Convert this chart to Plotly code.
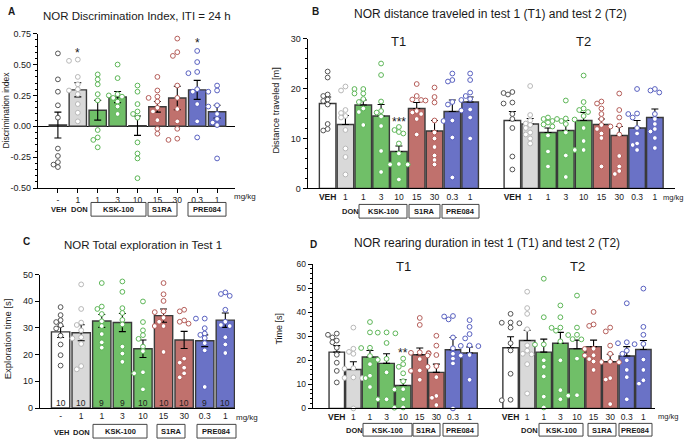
import plotly.graph_objects as go

W, H = 685, 445
FONT = "Liberation Sans, Arial, sans-serif"

# ---------------- data ----------------
dose_labels = ["-", "1", "1", "3", "10", "15", "30", "0.3", "1"]
dose_labels_veh = ["<b>VEH</b>", "1", "1", "3", "10", "15", "30", "0.3", "1"]
bar_group = ["VEH", "DON", "KSK", "KSK", "KSK", "S1RA", "S1RA", "PRE", "PRE"]
n_counts_c = [10, 10, 9, 9, 10, 10, 10, 9, 10]

# A: discrimination index
di_mean = [0.01, 0.295, 0.13, 0.237, 0.005, 0.158, 0.229, 0.295, 0.118]
di_sem = [0.105, 0.057, 0.08, 0.045, 0.078, 0.043, 0.095, 0.077, 0.052]
di_points = [
    [0.59, 0.38, 0.28, 0.17, 0.07, -0.18, -0.24, -0.29, -0.31, -0.33],
    [0.54, 0.53, 0.40, 0.34, 0.30, 0.29, 0.26, 0.18, 0.11, 0.04],
    [0.42, 0.38, 0.34, 0.26, 0.21, -0.03, -0.09, -0.11, -0.17],
    [0.50, 0.39, 0.26, 0.25, 0.24, 0.23, 0.20, 0.16, 0.10],
    [0.33, 0.28, 0.18, 0.12, 0.10, 0.07, -0.13, -0.22, -0.26, -0.42],
    [0.40, 0.29, 0.24, 0.23, 0.20, 0.15, 0.12, 0.05, -0.02, -0.06],
    [0.71, 0.60, 0.57, 0.33, 0.23, 0.14, 0.04, -0.02, -0.10, -0.11],
    [0.61, 0.52, 0.44, 0.43, 0.30, 0.28, 0.18, 0.04, -0.09],
    [0.33, 0.29, 0.28, 0.17, 0.16, 0.10, 0.06, 0.03, 0.01, -0.26],
]

# B: distance traveled
dist_t1_mean = [17.0, 12.8, 16.7, 14.5, 7.4, 16.0, 11.5, 15.4, 17.3]
dist_t1_sem = [1.3, 1.8, 1.0, 2.3, 1.1, 1.2, 2.1, 2.3, 1.0]
dist_t1_points = [
    [23.4, 22.2, 18.8, 18.5, 17.8, 17.5, 16.8, 12.9, 11.9, 11.6],
    [20.4, 19.6, 15.7, 15.1, 14.5, 14.2, 11.7, 8.0, 6.3, 2.8],
    [19.9, 19.9, 19.0, 19.0, 17.9, 17.3, 16.0, 15.3, 12.7],
    [25.0, 22.7, 17.4, 15.5, 15.2, 14.4, 12.5, 7.5, 3.3],
    [12.3, 11.7, 11.3, 11.0, 9.0, 7.0, 4.9, 4.8, 4.8, 1.8],
    [20.9, 18.5, 17.8, 17.7, 17.6, 15.5, 15.2, 14.9, 13.9, 10.8],
    [20.2, 18.3, 17.2, 13.6, 11.2, 10.0, 8.3, 6.6, 5.7, 4.8],
    [23.0, 21.7, 21.4, 17.3, 16.8, 13.6, 13.5, 10.2, 2.2],
    [23.0, 21.7, 19.2, 18.5, 17.9, 17.7, 15.8, 15.6, 14.2, 10.0],
]
dist_t2_mean = [13.6, 12.9, 11.2, 11.6, 13.6, 12.8, 10.6, 12.1, 14.2]
dist_t2_sem = [1.8, 1.1, 0.9, 2.0, 1.6, 1.1, 1.8, 1.5, 1.7]
dist_t2_points = [
    [19.3, 19.1, 18.8, 17.2, 17.0, 14.9, 13.9, 12.1, 6.4, 3.8],
    [20.5, 14.7, 13.6, 13.0, 12.7, 12.1, 11.2, 10.8, 10.0, 9.0],
    [14.2, 13.9, 13.5, 13.2, 12.8, 12.4, 10.6, 7.4, 4.4],
    [17.6, 14.0, 13.9, 13.8, 13.5, 12.9, 11.2, 6.6, 2.3],
    [22.6, 17.3, 16.0, 15.7, 15.3, 14.5, 12.1, 9.5, 7.7, 7.7],
    [17.4, 17.0, 16.0, 14.9, 13.9, 12.7, 11.9, 11.0, 10.1, 4.4],
    [19.0, 15.7, 14.2, 12.6, 12.4, 10.8, 6.5, 4.4, 3.5, 2.9],
    [19.9, 15.0, 14.9, 14.2, 12.1, 11.0, 9.0, 8.7, 7.7],
    [19.9, 19.6, 19.2, 14.9, 13.9, 12.9, 11.9, 11.4, 10.1, 8.1],
]

# C: total exploration
expl_mean = [28.5, 28.2, 32.6, 32.0, 22.2, 34.6, 25.5, 25.2, 32.9]
expl_sem = [2.1, 3.0, 2.4, 3.4, 3.3, 2.5, 3.2, 2.2, 2.7]
expl_points = [
    [37.8, 34.8, 32.9, 32.2, 31.0, 29.8, 27.1, 23.8, 19.8, 15.9],
    [46.3, 37.1, 32.0, 31.1, 29.1, 26.5, 26.1, 24.0, 15.7, 14.5],
    [46.8, 38.0, 37.1, 35.2, 32.5, 30.7, 27.7, 24.6, 22.6],
    [47.4, 43.5, 37.4, 35.6, 33.0, 31.3, 23.0, 20.4, 17.3],
    [39.9, 32.2, 29.1, 27.3, 25.9, 23.0, 21.3, 13.4, 13.0, 7.0],
    [46.8, 42.6, 40.1, 36.2, 35.9, 33.8, 32.3, 30.7, 30.7, 21.0],
    [36.8, 36.2, 32.8, 32.3, 31.6, 18.5, 17.0, 15.1, 13.0, 11.5],
    [33.5, 33.5, 29.9, 27.9, 27.4, 26.2, 24.3, 21.6, 7.9],
    [43.3, 42.7, 42.0, 36.8, 32.3, 31.1, 30.7, 26.5, 23.8, 20.6],
]

# D: rearing duration
rear_t1_mean = [23.4, 16.2, 21.4, 18.7, 9.5, 22.3, 15.0, 24.4, 23.0]
rear_t1_sem = [2.7, 3.2, 2.7, 4.0, 2.4, 2.8, 3.4, 5.1, 2.5]
rear_t1_points = [
    [31.1, 30.6, 29.5, 28.2, 27.5, 25.2, 22.3, 19.0, 15.6, 10.8],
    [33.6, 24.8, 23.5, 22.7, 16.7, 16.5, 12.9, 12.7, 12.6, 0.0],
    [35.9, 31.6, 25.2, 25.1, 21.8, 18.4, 13.6, 12.6, 8.9],
    [31.6, 31.5, 31.2, 27.2, 20.6, 20.2, 15.0, 3.8, 3.8],
    [20.7, 18.4, 17.3, 14.6, 11.3, 8.0, 7.9, 3.8, 0.4, 0.3],
    [37.6, 34.7, 23.3, 23.1, 23.0, 22.8, 20.5, 15.8, 15.6, 11.9],
    [30.2, 26.1, 22.2, 22.0, 17.6, 17.3, 13.0, 5.2, 4.4, 1.4],
    [38.4, 38.2, 37.0, 29.5, 25.0, 22.7, 20.7, 18.7, 0.0],
    [36.7, 33.9, 30.9, 29.1, 26.2, 26.0, 25.9, 22.2, 22.0, 11.9],
]
rear_t2_mean = [25.2, 28.2, 23.4, 27.1, 24.8, 25.7, 19.4, 21.8, 24.5]
rear_t2_sem = [4.6, 4.3, 5.4, 4.5, 3.6, 2.7, 3.1, 3.9, 3.7]
rear_t2_points = [
    [39.3, 35.7, 35.6, 35.4, 33.6, 27.1, 24.1, 14.4, 3.6, 3.4],
    [48.5, 41.7, 39.3, 32.9, 26.2, 24.0, 22.7, 22.5, 18.4, 6.2],
    [53.9, 37.9, 26.6, 26.5, 20.0, 17.3, 13.3, 4.9, 0.4],
    [42.8, 37.9, 33.6, 33.5, 32.3, 27.9, 20.0, 7.6, 3.8],
    [46.9, 33.6, 30.6, 30.5, 28.8, 28.7, 20.7, 5.5, 5.3],
    [40.1, 34.9, 34.3, 24.8, 24.7, 22.1, 22.0, 20.5, 19.5, 16.0],
    [33.6, 32.0, 26.1, 22.7, 19.4, 19.3, 19.2, 12.6, 12.0, 1.8],
    [43.7, 27.5, 27.1, 24.0, 22.7, 20.0, 16.0, 13.0, 3.8],
    [49.8, 33.9, 30.6, 26.8, 26.7, 20.3, 16.0, 11.7, 10.3],
]

# ---------------- style ----------------
bar_fill = {"VEH": "#ffffff", "DON": "#d9d9d9", "KSK": "#70bf68",
            "S1RA": "#c0716d", "PRE": "#6a72c6"}
pt_edge = {"VEH": "#555555", "DON": "#b8b8b8", "KSK": "#5db657",
           "S1RA": "#b55e5a", "PRE": "#5860c0"}
BAR_EDGE = "#3a3a3a"


def fx(px):
    return px / W


def fy(py):
    return 1 - py / H


def swarm(vals, ppx, ppy, d=4.6, step=4.4):
    placed = []
    offs = [0.0] * len(vals)
    for i in sorted(range(len(vals)), key=lambda k: -vals[k]):
        yp = vals[i] * ppy
        xp = 0.0
        for k in (0, -1, 1, -2, 2):
            xp = k * step
            if all((xp - a) ** 2 + (yp - b) ** 2 >= d * d for a, b in placed):
                break
        placed.append((xp, yp))
        offs[i] = xp / ppx
    return offs


fig = go.Figure()


def add_panel(xa, ya, positions, means, sems, points, ppx, ppy, width,
              upward_only):
    groups = bar_group * (len(positions) // len(bar_group))
    err = dict(type="data", array=sems, color="black", thickness=1.1, width=3.5)
    if upward_only:
        err.update(symmetric=False, arrayminus=[0] * len(sems))
    fig.add_trace(go.Bar(
        x=positions, y=means, xaxis=xa, yaxis=ya, width=width,
        marker=dict(color=[bar_fill[g] for g in groups],
                    line=dict(color=BAR_EDGE, width=1.4)),
        error_y=err, showlegend=False, hoverinfo="skip"))
    xs, ys, cols = [], [], []
    for pos, pts, g in zip(positions, points, groups):
        offs = swarm(pts, ppx, ppy)
        for v, o in zip(pts, offs):
            xs.append(pos + o)
            ys.append(v)
            cols.append(pt_edge[g])
    fig.add_trace(go.Scatter(
        x=xs, y=ys, xaxis=xa, yaxis=ya, mode="markers", cliponaxis=False,
        marker=dict(symbol="circle", size=4.8, color="white",
                    line=dict(color=cols, width=1)),
        showlegend=False, hoverinfo="skip"))


pos9 = list(range(9))
# pixel geometry of each panel
A_X, A_Y = (38, 235), (187.3, 29.3)
A_RX, A_RY = (-1.0, 8.9), (-0.5, 0.75)
B_X, B_Y = (307.7, 675), (187.7, 34.3)
B_RX, B_RY = (-1.12, 19.5), (0, 30)
C_X, C_Y = (40, 235), (412.3, 275.7)
C_RX, C_RY = (-1.0, 8.47), (0, 50)
D_X, D_Y = (312.7, 655), (412.7, 265)
D_RX, D_RY = (-1.45, 19.17), (0, 60)
B_T2 = 10.37
D_T2 = 10.47


def scale(px, rx):
    return (px[1] - px[0]) / (rx[1] - rx[0])


def yscale(py, ry):
    return (py[0] - py[1]) / (ry[1] - ry[0])


add_panel("x", "y", pos9, di_mean, di_sem, di_points,
          scale(A_X, A_RX), yscale(A_Y, A_RY), 0.87, False)
b_pos = pos9 + [B_T2 + p for p in pos9]
add_panel("x2", "y2", b_pos, dist_t1_mean + dist_t2_mean,
          dist_t1_sem + dist_t2_sem, dist_t1_points + dist_t2_points,
          scale(B_X, B_RX), yscale(B_Y, B_RY), 0.93, True)
add_panel("x3", "y3", pos9, expl_mean, expl_sem, expl_points,
          scale(C_X, C_RX), yscale(C_Y, C_RY), 0.89, False)
d_pos = pos9 + [D_T2 + p for p in pos9]
add_panel("x4", "y4", d_pos, rear_t1_mean + rear_t2_mean,
          rear_t1_sem + rear_t2_sem, rear_t1_points + rear_t2_points,
          scale(D_X, D_RX), yscale(D_Y, D_RY), 0.93, True)


def xaxis(px, rng, tickvals, ticktext, anchor, ticks=""):
    return dict(domain=[fx(px[0]), fx(px[1])], range=list(rng), anchor=anchor,
                tickmode="array", tickvals=tickvals, ticktext=ticktext,
                ticks=ticks, ticklen=4, tickcolor="black", tickwidth=1,
                showline=True, linecolor="black", linewidth=1.2,
                showgrid=False, zeroline=False, fixedrange=True,
                tickfont=dict(size=8.5, color="#1a1a1a"))


def yaxis(py, rng, anchor, dtick, minor=None, **kw):
    d = dict(domain=[fy(py[0]), fy(py[1])], range=list(rng), anchor=anchor,
             tickmode="linear", tick0=rng[0], dtick=dtick,
             ticks="outside", ticklen=4, tickcolor="black", tickwidth=1,
             showline=True, linecolor="black", linewidth=1.2,
             showgrid=False, zeroline=False, fixedrange=True,
             tickfont=dict(size=9, color="#1a1a1a"))
    if minor:
        d["minor"] = dict(tickmode="linear", tick0=rng[0], dtick=minor,
                          ticks="outside", ticklen=2, tickcolor="black",
                          showgrid=False)
    d.update(kw)
    return d


a_ytick = [-0.5, -0.25, 0, 0.25, 0.5, 0.75]
fig.update_layout(
    width=W, height=H, margin=dict(l=0, r=0, t=0, b=0),
    paper_bgcolor="white", plot_bgcolor="rgba(0,0,0,0)",
    font=dict(family=FONT, size=9, color="#1a1a1a"), showlegend=False,
    xaxis=xaxis(A_X, A_RX, pos9, dose_labels, "y", ticks="outside"),
    yaxis=yaxis(A_Y, A_RY, "x", 0.25, 0.05, tickmode="array",
                tickvals=a_ytick, ticktext=["%.2f" % v for v in a_ytick],
                zeroline=True, zerolinecolor="black", zerolinewidth=1.2),
    xaxis2=xaxis(B_X, B_RX, b_pos, dose_labels_veh * 2, "y2"),
    yaxis2=yaxis(B_Y, B_RY, "x2", 10, 2),
    xaxis3=xaxis(C_X, C_RX, pos9, dose_labels, "y3"),
    yaxis3=yaxis(C_Y, C_RY, "x3", 10),
    xaxis4=xaxis(D_X, D_RX, d_pos, dose_labels_veh * 2, "y4"),
    yaxis4=yaxis(D_Y, D_RY, "x4", 10, 2, tickfont=dict(size=8.5, color="#1a1a1a")),
)

ann = []
shapes = []


def text(t, px, py, size, bold=False, angle=0, color="#1a1a1a", xanchor="center"):
    ann.append(dict(text=("<b>%s</b>" % t) if bold else t, x=fx(px), y=fy(py),
                    xref="paper", yref="paper", showarrow=False,
                    xanchor=xanchor, yanchor="middle", textangle=angle,
                    font=dict(size=size, color=color, family=FONT)))


def box(label, x0, x1, y0, y1):
    shapes.append(dict(type="rect", xref="paper", yref="paper",
                       x0=fx(x0), x1=fx(x1), y0=fy(y1), y1=fy(y0),
                       line=dict(color="#444444", width=1)))
    text(label, (x0 + x1) / 2, (y0 + y1) / 2 + 0.5, 7.5, bold=True)


# panel letters and titles
text("A", 11, 7, 10, bold=True)
text("B", 315, 7, 10, bold=True)
text("C", 26, 242, 10, bold=True)
text("D", 313, 245, 10, bold=True)
text("NOR Discrimination Index, ITI = 24 h", 136.5, 11, 11.5)
text("NOR distance traveled in test 1 (T1) and test 2 (T2)", 491, 9, 12)
text("NOR Total exploration in Test 1", 143, 246, 11.5)
text("NOR rearing duration in test 1 (T1) and test 2 (T2)", 487, 243, 12)
text("T1", 398, 37, 13)
text("T2", 583, 37, 13)
text("T1", 403, 268, 13)
text("T2", 577, 268, 13)

# y-axis titles
text("Discrimination index", 6, 108, 8.5, angle=-90)
text("Distance traveled [m]", 276, 108, 9.2, angle=-90)
text("Exploration time [s]", 7, 342, 9.5, angle=-90)
text("Time [s]", 279, 331, 9, angle=-90)

# mg/kg
text("mg/kg", 245, 196, 8)
text("mg/kg", 247, 422, 8)
text("mg/kg", 673, 197, 7.5)
text("mg/kg", 668, 421, 7.5)

# group rows
text("VEH", 58, 209, 7.5, bold=True)
text("DON", 79, 209, 7.5, bold=True)
box("KSK-100", 91, 146, 202, 216)
box("S1RA", 148, 177, 202, 216)
box("PRE084", 188, 226, 202, 216)

text("VEH", 61, 437, 7.5, bold=True)
text("DON", 81, 437, 7.5, bold=True)
box("KSK-100", 93, 147, 429, 443)
box("S1RA", 157, 185, 429, 443)
box("PRE084", 197, 236, 429, 443)

text("DON", 350, 211, 7.5, bold=True)
box("KSK-100", 359, 407, 204, 218)
box("S1RA", 409, 440, 204, 218)
box("PRE084", 442, 479, 204, 218)

text("DON", 354, 435, 7.5, bold=True)
box("KSK-100", 363, 412, 428, 441)
box("S1RA", 413, 440, 428, 441)
box("PRE084", 443, 478, 428, 441)
text("DON", 529, 435, 7.5, bold=True)
box("KSK-100", 539, 583, 428, 441)
box("S1RA", 588, 616, 428, 441)
box("PRE084", 619, 652, 428, 441)

# significance stars (data coordinates)
for xr, yr, xv, yv, s in [("x", "y", 1, 0.615, "*"), ("x", "y", 7, 0.695, "*"),
                          ("x2", "y2", 4, 13.8, "***"), ("x4", "y4", 4, 24.4, "**")]:
    ann.append(dict(text=s, x=xv, y=yv, xref=xr, yref=yr, showarrow=False,
                    yshift=-3, font=dict(size=12, color="#1a1a1a", family=FONT)))

# n labels in C
for p, n in zip(pos9, n_counts_c):
    ann.append(dict(text=str(n), x=p, y=1.9, xref="x3", yref="y3",
                    showarrow=False, font=dict(size=8.5, color="#222222", family=FONT)))

fig.update_layout(annotations=ann, shapes=shapes)
fig.write_html("out.html", config={"displayModeBar": False},
               post_script="document.body.style.margin='0';"
                           "document.body.style.overflow='hidden';")
